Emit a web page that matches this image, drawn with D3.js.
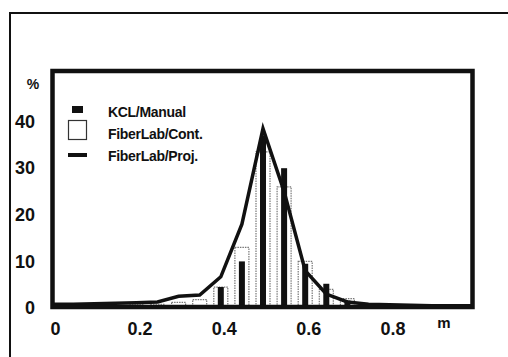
<!DOCTYPE html>
<html>
<head>
<meta charset="utf-8">
<script src="https://cdn.jsdelivr.net/npm/d3@7"></script>
<style>
  body { margin: 0; background: #fff; }
  svg { font-family: "Liberation Sans", Arial, sans-serif; font-weight: bold; }
</style>
</head>
<body>
<div id="chart"></div>
<script>
// fibre length classes (m)
const bins = [0.2, 0.25, 0.3, 0.35, 0.4, 0.45, 0.5, 0.55, 0.6, 0.65, 0.7, 0.75, 0.8, 0.85, 0.9];
const kclManual = [0, 0, 0, 0, 4.5, 10, 37, 30, 9.5, 5.2, 1.6, 0.4, 0, 0, 0];
const fiberLabCont = [0.7, 0.8, 1.2, 1.8, 4.5, 13, 33.5, 26, 10, 4, 2, 0.7, 0.6, 0, 0.4];

// projection curve
const projX = [0, 0.05, 0.1, 0.15, 0.2, 0.25, 0.3, 0.35, 0.4, 0.45, 0.5, 0.55, 0.6, 0.65, 0.7, 0.75, 0.8, 0.85, 0.9, 0.95, 1.0];
const projY = [0.8, 0.8, 0.9, 1.0, 1.1, 1.3, 2.5, 2.8, 6.7, 18, 38.5, 25, 8, 3, 1.3, 0.8, 0.7, 0.6, 0.5, 0.5, 0.5];

const xTicks = [0, 0.2, 0.4, 0.6, 0.8];
const yTicks = [0, 10, 20, 30, 40];
const legendLabels = ["KCL/Manual", "FiberLab/Cont.", "FiberLab/Proj."];

const width = 508, height = 357;

const svg = d3.select("#chart").append("svg")
    .attr("width", width)
    .attr("height", height);

const x = d3.scaleLinear().domain([0, 1]).range([52, 474]);
const y = d3.scaleLinear().domain([0, 50]).range([308, 75]);

// outer frame (only top and left edges show)
svg.append("rect")
    .attr("x", 10).attr("y", 13)
    .attr("width", 600).attr("height", 400)
    .attr("fill", "none")
    .attr("stroke", "#111")
    .attr("stroke-width", 2);

// FiberLab/Cont. - wide white bars
svg.append("g").selectAll("rect")
    .data(bins)
    .join("rect")
    .attr("x", (d) => x(d) - 7)
    .attr("y", (d, i) => y(fiberLabCont[i]))
    .attr("width", 14)
    .attr("height", (d, i) => y(0) - y(fiberLabCont[i]))
    .attr("fill", "#fff")
    .attr("stroke", "#777")
    .attr("stroke-width", 1.2)
    .attr("stroke-dasharray", "1.5,1");

// KCL/Manual - narrow black bars
svg.append("g").selectAll("rect")
    .data(bins)
    .join("rect")
    .attr("x", (d) => x(d) - 3)
    .attr("y", (d, i) => y(kclManual[i]))
    .attr("width", 6)
    .attr("height", (d, i) => y(0) - y(kclManual[i]))
    .attr("fill", "#111");

// FiberLab/Proj. line
const projLine = d3.line()
    .x((d, i) => x(projX[i]))
    .y((d) => y(d));

svg.append("path")
    .attr("d", projLine(projY))
    .attr("fill", "none")
    .attr("stroke", "#111")
    .attr("stroke-width", 3.5)
    .attr("stroke-linejoin", "miter")
    .attr("stroke-miterlimit", 10);

// plot frame
svg.append("rect")
    .attr("x", 52.5).attr("y", 71)
    .attr("width", 420).attr("height", 236)
    .attr("fill", "none")
    .attr("stroke", "#111")
    .attr("stroke-width", 4.5);

// y axis labels
const yAxis = svg.append("g")
    .attr("transform", "translate(52,0)")
    .call(d3.axisLeft(y).tickValues(yTicks).tickSize(0).tickPadding(17));
yAxis.select(".domain").remove();
yAxis.selectAll("text")
    .style("font-family", "Liberation Sans, Arial, sans-serif")
    .style("font-weight", "bold")
    .style("font-size", "18px")
    .attr("fill", "#111");

// x axis labels
const xAxis = svg.append("g")
    .attr("transform", "translate(0,308)")
    .call(d3.axisBottom(x).tickValues(xTicks).tickSize(0).tickPadding(14)
        .tickFormat((d) => d === 0 ? "0" : d3.format(".1f")(d)));
xAxis.select(".domain").remove();
xAxis.selectAll("text")
    .attr("dx", 3)
    .style("font-family", "Liberation Sans, Arial, sans-serif")
    .style("font-weight", "bold")
    .style("font-size", "18px")
    .attr("fill", "#111");

// unit labels
svg.append("text")
    .attr("x", 444).attr("y", 328)
    .style("text-anchor", "middle")
    .style("font-size", "15px")
    .attr("fill", "#111")
    .text("m");

svg.append("text")
    .attr("x", 33).attr("y", 89)
    .style("text-anchor", "middle")
    .style("font-size", "14px")
    .attr("fill", "#111")
    .text("%");

// legend
const legend = svg.append("g").attr("transform", "translate(68,0)");
legend.append("rect")
    .attr("x", 4).attr("y", 106)
    .attr("width", 11).attr("height", 7)
    .attr("fill", "#111");
legend.append("rect")
    .attr("x", 0.5).attr("y", 120.5)
    .attr("width", 18).attr("height", 19)
    .attr("fill", "#fff")
    .attr("stroke", "#333")
    .attr("stroke-width", 1.2);
legend.append("line")
    .attr("x1", 0).attr("x2", 19)
    .attr("y1", 155).attr("y2", 155)
    .attr("stroke", "#111")
    .attr("stroke-width", 4);

legend.selectAll("text.lbl")
    .data(legendLabels)
    .join("text")
    .attr("class", "lbl")
    .attr("x", 40)
    .attr("y", (d, i) => 117 + i * 22)
    .style("font-size", "14px")
    .style("letter-spacing", "-0.3px")
    .attr("fill", "#111")
    .text((d) => d);
</script>
</body>
</html>
